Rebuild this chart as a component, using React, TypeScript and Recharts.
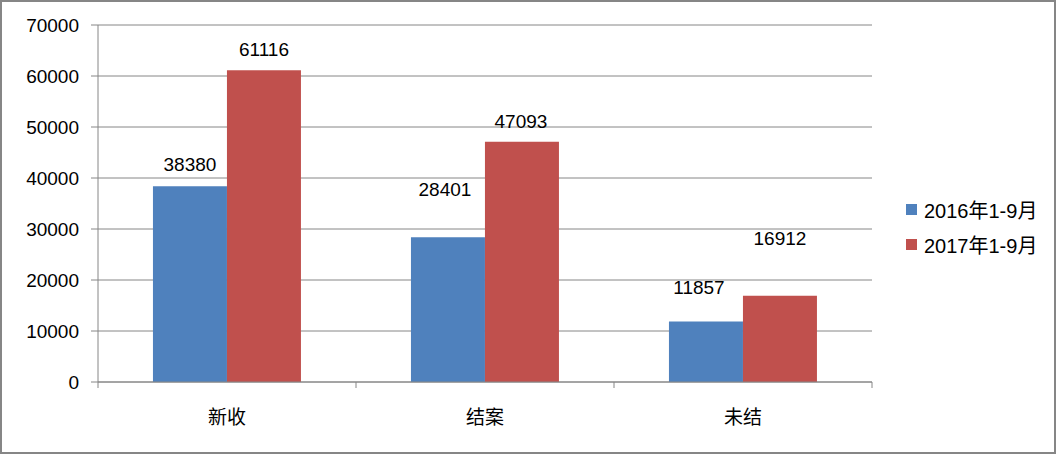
import React from 'react'
import { BarChart, Bar, XAxis, YAxis, CartesianGrid, LabelList } from 'recharts'

const categories = ['新收', '结案', '未结']
const series2016 = [38380, 28401, 11857]
const series2017 = [61116, 47093, 16912]
const yTicks = [0, 10000, 20000, 30000, 40000, 50000, 60000, 70000]
const seriesNames = ['2016年1-9月', '2017年1-9月']

// label placement (Excel put these a bit freely above the bars)
const lift2016 = [22, 48, 34]
const lift2017 = [21, 20, 57]
const shift2016 = [0, -3, -7]
const shift2017 = [0, -1, 0]

const BLUE = '#4F81BD'
const RED = '#C0504D'
const GRID = '#868686'
const FONT = '"Liberation Sans", "Noto Sans CJK SC", sans-serif'

const data = categories.map((c, i) => ({ name: c, a: series2016[i], b: series2017[i] }))

const makeLabel = (lift: number[], shift: number[]) => (props: any) => {
  const { x, y, width, value, index } = props
  return (
    <text x={x + width / 2 + shift[index]} y={y - lift[index]} textAnchor="middle" dominantBaseline="central"
      fontSize={19} fontFamily={FONT} fill="#000">
      {value}
    </text>
  )
}

const CatTick = (props: any) => {
  const { x, y, payload, index } = props
  const half = payload?.offset ?? 129
  return (
    <g>
      <line x1={x - half} y1={y} x2={x - half} y2={y + 6} stroke={GRID} />
      {index === categories.length - 1 && <line x1={x + half} y1={y} x2={x + half} y2={y + 6} stroke={GRID} />}
      <text x={x} y={y + 35} textAnchor="middle" dominantBaseline="central" fontSize={19} fontFamily={FONT} fill="#000">
        {payload.value}
      </text>
    </g>
  )
}

const LegendBox = () => (
  <div style={{ position: 'absolute', left: 905, top: 192, fontFamily: FONT, fontSize: 20, color: '#000' }}>
    {seriesNames.map((n, i) => (
      <div key={n} style={{ display: 'flex', alignItems: 'center', height: 35, whiteSpace: 'nowrap' }}>
        <span style={{ width: 11, height: 11, background: i === 0 ? BLUE : RED, display: 'inline-block', marginRight: 7 }} />
        <span>{n}</span>
      </div>
    ))}
  </div>
)

export default function App() {
  return (
    <div style={{ position: 'absolute', left: 0, top: 0, width: 1056, height: 454, boxSizing: 'border-box', border: '2px solid #868686', background: '#fff' }}>
      <div style={{ position: 'absolute', left: -1, top: -2 }}>
        <BarChart width={1056} height={454} data={data} margin={{ top: 25, right: 185, left: 0, bottom: 0 }}
          barCategoryGap="21.3%" barGap={0}>
          <CartesianGrid vertical={false} stroke={GRID} />
          <XAxis dataKey="name" height={72} axisLine={{ stroke: GRID }} tickLine={false} tickSize={0} tickMargin={0}
            tick={<CatTick />} interval={0} />
          <YAxis width={97} domain={[0, 70000]} ticks={yTicks} axisLine={{ stroke: GRID }} tickLine={{ stroke: GRID }}
            tickSize={7} tickMargin={12} tick={{ fontSize: 19, fontFamily: FONT, fill: '#000' }} interval={0} />
          <Bar dataKey="a" name={seriesNames[0]} fill={BLUE} isAnimationActive={false}>
            <LabelList dataKey="a" content={makeLabel(lift2016, shift2016)} />
          </Bar>
          <Bar dataKey="b" name={seriesNames[1]} fill={RED} isAnimationActive={false}>
            <LabelList dataKey="b" content={makeLabel(lift2017, shift2017)} />
          </Bar>
        </BarChart>
        <LegendBox />
      </div>
    </div>
  )
}
